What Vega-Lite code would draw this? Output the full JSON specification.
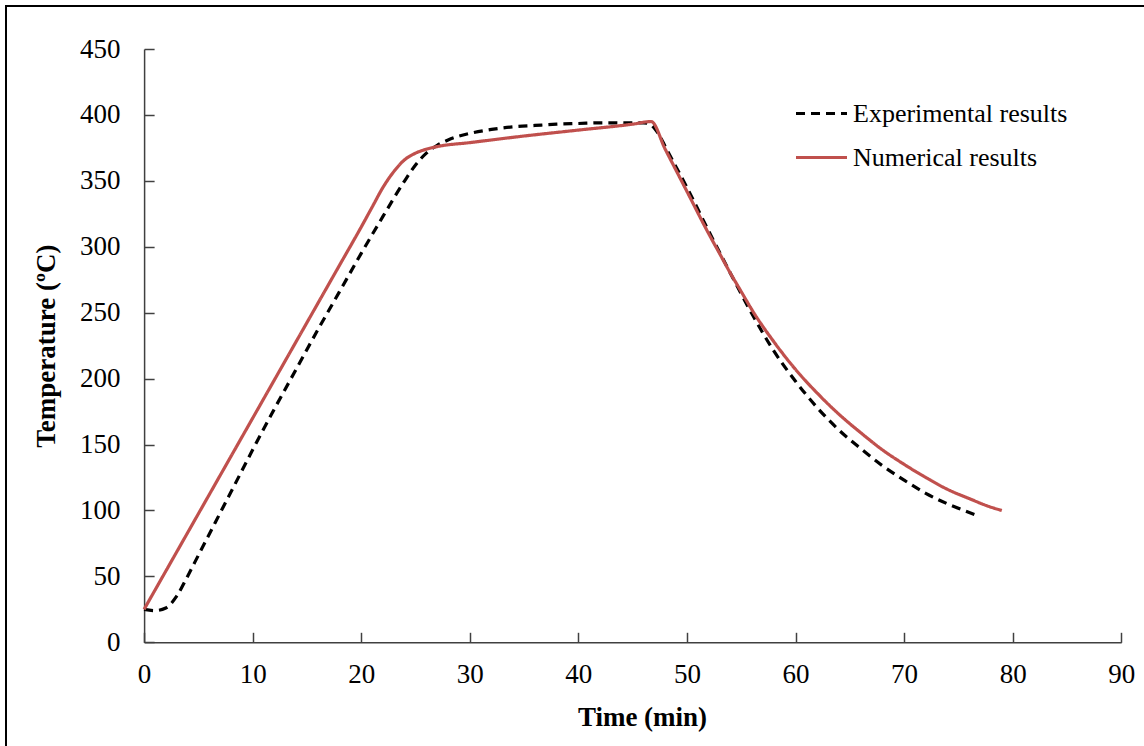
{
  "$schema": "https://vega.github.io/schema/vega-lite/v6.json",
  "width": 1138,
  "height": 740,
  "padding": {"left": 6, "top": 6, "right": 0, "bottom": 0},
  "autosize": {"type": "none"},
  "background": "white",
  "config": {
    "view": {"stroke": "#000000", "strokeWidth": 2, "strokeDash": [1138, 1878, 740, 20]},
    "font": "Liberation Serif",
    "axis": {"labelFont": "Liberation Serif", "titleFont": "Liberation Serif", "labelColor": "#000000", "titleColor": "#000000", "domainColor": "#404040", "tickColor": "#404040", "domainWidth": 1.5, "tickWidth": 1.5, "grid": false}
  },
  "data": {
    "values": [
      {"series": "Experimental results", "t": 0, "T": 25},
      {"series": "Experimental results", "t": 1, "T": 24},
      {"series": "Experimental results", "t": 2, "T": 26},
      {"series": "Experimental results", "t": 3, "T": 35},
      {"series": "Experimental results", "t": 4, "T": 50},
      {"series": "Experimental results", "t": 5, "T": 66},
      {"series": "Experimental results", "t": 6, "T": 82},
      {"series": "Experimental results", "t": 7, "T": 98},
      {"series": "Experimental results", "t": 8, "T": 114},
      {"series": "Experimental results", "t": 9, "T": 130},
      {"series": "Experimental results", "t": 10, "T": 146},
      {"series": "Experimental results", "t": 12, "T": 177},
      {"series": "Experimental results", "t": 14, "T": 207},
      {"series": "Experimental results", "t": 16, "T": 237},
      {"series": "Experimental results", "t": 18, "T": 266},
      {"series": "Experimental results", "t": 20, "T": 295},
      {"series": "Experimental results", "t": 22, "T": 323},
      {"series": "Experimental results", "t": 24, "T": 350},
      {"series": "Experimental results", "t": 25, "T": 362},
      {"series": "Experimental results", "t": 26, "T": 371},
      {"series": "Experimental results", "t": 27, "T": 377},
      {"series": "Experimental results", "t": 28, "T": 381},
      {"series": "Experimental results", "t": 30, "T": 386},
      {"series": "Experimental results", "t": 32, "T": 389},
      {"series": "Experimental results", "t": 34, "T": 391},
      {"series": "Experimental results", "t": 36, "T": 392},
      {"series": "Experimental results", "t": 38, "T": 393},
      {"series": "Experimental results", "t": 40, "T": 393.5},
      {"series": "Experimental results", "t": 42, "T": 394},
      {"series": "Experimental results", "t": 44, "T": 394},
      {"series": "Experimental results", "t": 46, "T": 394},
      {"series": "Experimental results", "t": 46.6, "T": 393},
      {"series": "Experimental results", "t": 47, "T": 390},
      {"series": "Experimental results", "t": 47.5, "T": 384},
      {"series": "Experimental results", "t": 48, "T": 376},
      {"series": "Experimental results", "t": 50, "T": 345},
      {"series": "Experimental results", "t": 52, "T": 312},
      {"series": "Experimental results", "t": 54, "T": 280},
      {"series": "Experimental results", "t": 56, "T": 249},
      {"series": "Experimental results", "t": 58, "T": 221},
      {"series": "Experimental results", "t": 60, "T": 198},
      {"series": "Experimental results", "t": 62, "T": 178},
      {"series": "Experimental results", "t": 64, "T": 161},
      {"series": "Experimental results", "t": 66, "T": 147},
      {"series": "Experimental results", "t": 68, "T": 134},
      {"series": "Experimental results", "t": 70, "T": 123},
      {"series": "Experimental results", "t": 72, "T": 113},
      {"series": "Experimental results", "t": 74, "T": 105},
      {"series": "Experimental results", "t": 76, "T": 98.5},
      {"series": "Experimental results", "t": 76.8, "T": 96},
      {"series": "Numerical results", "t": 0, "T": 25},
      {"series": "Numerical results", "t": 2, "T": 54},
      {"series": "Numerical results", "t": 4, "T": 83},
      {"series": "Numerical results", "t": 6, "T": 112},
      {"series": "Numerical results", "t": 8, "T": 141},
      {"series": "Numerical results", "t": 10, "T": 170},
      {"series": "Numerical results", "t": 12, "T": 199},
      {"series": "Numerical results", "t": 14, "T": 228},
      {"series": "Numerical results", "t": 16, "T": 257},
      {"series": "Numerical results", "t": 18, "T": 286},
      {"series": "Numerical results", "t": 20, "T": 315},
      {"series": "Numerical results", "t": 21, "T": 330},
      {"series": "Numerical results", "t": 22, "T": 345},
      {"series": "Numerical results", "t": 23, "T": 357},
      {"series": "Numerical results", "t": 24, "T": 366},
      {"series": "Numerical results", "t": 25, "T": 371},
      {"series": "Numerical results", "t": 26, "T": 374},
      {"series": "Numerical results", "t": 27, "T": 376},
      {"series": "Numerical results", "t": 30, "T": 379},
      {"series": "Numerical results", "t": 35, "T": 384},
      {"series": "Numerical results", "t": 40, "T": 388.5},
      {"series": "Numerical results", "t": 45, "T": 393},
      {"series": "Numerical results", "t": 46.7, "T": 395},
      {"series": "Numerical results", "t": 48, "T": 374},
      {"series": "Numerical results", "t": 50, "T": 342},
      {"series": "Numerical results", "t": 52, "T": 310},
      {"series": "Numerical results", "t": 53, "T": 295},
      {"series": "Numerical results", "t": 54, "T": 280},
      {"series": "Numerical results", "t": 55, "T": 266},
      {"series": "Numerical results", "t": 56, "T": 252},
      {"series": "Numerical results", "t": 58, "T": 228},
      {"series": "Numerical results", "t": 60, "T": 207},
      {"series": "Numerical results", "t": 62, "T": 189},
      {"series": "Numerical results", "t": 64, "T": 173},
      {"series": "Numerical results", "t": 66, "T": 159},
      {"series": "Numerical results", "t": 68, "T": 146},
      {"series": "Numerical results", "t": 70, "T": 135},
      {"series": "Numerical results", "t": 72, "T": 125},
      {"series": "Numerical results", "t": 74, "T": 116},
      {"series": "Numerical results", "t": 76, "T": 109},
      {"series": "Numerical results", "t": 78, "T": 102.5},
      {"series": "Numerical results", "t": 79, "T": 100}
    ]
  },
  "mark": {"type": "line", "strokeWidth": 3.2, "interpolate": "monotone"},
  "encoding": {
    "x": {
      "field": "t", "type": "quantitative",
      "scale": {"domain": [0, 90], "range": [138.1, 1115.2], "nice": false, "zero": false},
      "axis": {"title": "Time (min)", "values": [0, 10, 20, 30, 40, 50, 60, 70, 80, 90], "offset": -103.7, "tickSize": -10, "labelPadding": 29, "labelFontSize": 27, "titleFontSize": 27, "titleFontWeight": "bold", "titlePadding": 17, "titleX": 636, "labelFlush": false}
    },
    "y": {
      "field": "T", "type": "quantitative",
      "scale": {"domain": [0, 450], "range": [636.3, 43], "nice": false, "zero": false},
      "axis": {"title": "Temperature (ºC)", "values": [0, 50, 100, 150, 200, 250, 300, 350, 400, 450], "offset": -138.1, "tickSize": -10, "labelPadding": 34, "labelFontSize": 27, "titleFontSize": 27, "titleFontWeight": "bold", "titlePadding": 19, "labelFlush": false}
    },
    "color": {
      "field": "series", "type": "nominal",
      "scale": {"domain": ["Experimental results", "Numerical results"], "range": ["#000000", "#C0504D"]},
      "legend": {"title": null, "orient": "none", "legendX": 788, "legendY": 80, "symbolType": "stroke", "symbolSize": 2600, "symbolStrokeWidth": 3.2, "labelFont": "Liberation Serif", "labelFontSize": 26, "labelColor": "#000000", "labelOffset": 4, "rowPadding": 3, "padding": 0, "labelLimit": 400}
    },
    "strokeDash": {
      "field": "series", "type": "nominal",
      "scale": {"domain": ["Experimental results", "Numerical results"], "range": [[9, 6], [1, 0]]},
      "legend": null
    }
  }
}
